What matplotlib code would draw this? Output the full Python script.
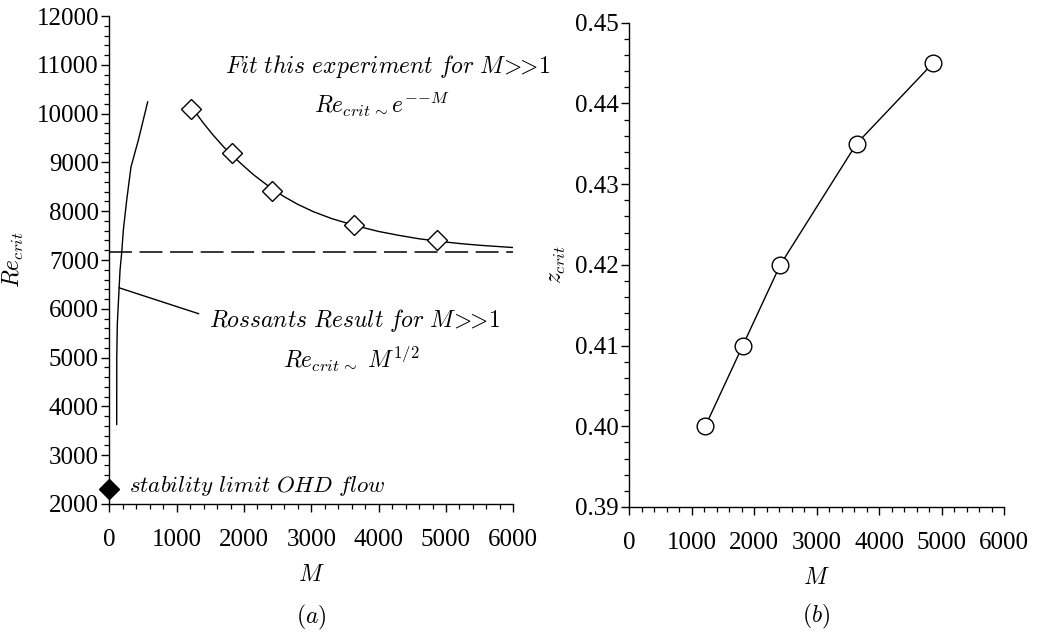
import numpy as np
import matplotlib
matplotlib.use('Agg')
import matplotlib.pyplot as plt
from matplotlib.ticker import MultipleLocator, FormatStrFormatter

plt.rcParams['mathtext.fontset'] = 'cm'
plt.rcParams['font.family'] = ['Liberation Serif', 'DejaVu Serif']

# measured points
M_exp = [1220, 1820, 2420, 3640, 4865]
Re_crit = [10100, 9190, 8420, 7710, 7400]
z_crit = [0.400, 0.410, 0.420, 0.435, 0.445]

# exponential fit through the experiment
fit_M = [1240, 1400, 1545, 1700, 1843, 2000, 2140, 2300, 2428, 2600, 2800,
         3031, 3300, 3651, 4000, 4300, 4600, 4865, 5200, 5500, 6000]
fit_Re = [10100, 9800, 9555, 9315, 9120, 8920, 8750, 8580, 8450, 8295, 8140,
          7990, 7850, 7705, 7585, 7505, 7435, 7388, 7338, 7302, 7255]

# Rossant's large-M result
ross_M = [110, 111, 119, 146, 159, 184, 208, 258, 322, 431, 570]
ross_Re = [3630, 5000, 5690, 6430, 6784, 7150, 7606, 8222, 8906, 9454, 10240]
ross_leader_M = [146, 1325]
ross_leader_Re = [6430, 5900]

Re_asymptote = 7160
M_span = [0, 6000]
ohd_M = 0
ohd_Re = 2300

# ">>" with the relation spacing trimmed
much_greater = r'\!>\!\!\!>\!1'


def it(s):
    return r'\mathit{' + s.replace(' ', r'\ ') + '}'


def style_axes(ax):
    for side in ['top', 'right']:
        ax.spines[side].set_visible(False)
    for side in ['left', 'bottom']:
        ax.spines[side].set_linewidth(1.0)
    ax.tick_params(which='major', direction='out', length=6, width=1.0, labelsize=18)
    ax.tick_params(which='minor', direction='out', length=3.5, width=0.9)
    ax.tick_params(axis='x', which='major', pad=12)
    ax.tick_params(axis='y', which='major', pad=1.5)
    ax.xaxis.set_major_locator(MultipleLocator(1000))
    ax.xaxis.set_minor_locator(MultipleLocator(200))
    ax.set_xlim(0, 6000)


fig = plt.figure(figsize=(10.37, 6.35), dpi=100)
ax1 = fig.add_axes([0.1054, 0.2063, 0.3896, 0.7685])
ax2 = fig.add_axes([0.6066, 0.2016, 0.3616, 0.7627])

# (a) critical Reynolds number
style_axes(ax1)
ax1.set_ylim(2000, 12000)
ax1.yaxis.set_major_locator(MultipleLocator(1000))
ax1.yaxis.set_minor_locator(MultipleLocator(200))

ax1.plot(fit_M, fit_Re, color='black', lw=1.0)
ax1.plot(M_exp, Re_crit, linestyle='none', marker='D', markersize=10,
         markerfacecolor='white', markeredgecolor='black', markeredgewidth=1.0)
dash, = ax1.plot(M_span, [Re_asymptote, Re_asymptote], color='black', lw=1.1)
dash.set_dashes([15, 5])
ax1.plot(ross_M, ross_Re, color='black', lw=1.0)
ax1.plot(ross_leader_M, ross_leader_Re, color='black', lw=1.0)
ax1.plot([ohd_M], [ohd_Re], marker='D', markersize=10, color='black', clip_on=False)

ax1.text(4130, 10960, '$' + it('Fit this experiment for M') + much_greater + '$',
         fontsize=17, ha='center', va='center')
ax1.text(4040, 10190, r'$Re_{crit}{}_{\sim}e^{{-}{-}M}$', fontsize=17,
         ha='center', va='center')
ax1.text(3650, 5770, '$' + it('Rossants Result for M') + much_greater + '$',
         fontsize=17, ha='center', va='center')
ax1.text(3600, 4970, r'$Re_{crit}{}_{\sim}\ M^{1/2}$', fontsize=17,
         ha='center', va='center')
ax1.text(290, 2370, '$' + it('stability limit OHD flow') + '$', fontsize=16.5,
         ha='left', va='center')

ax1.set_ylabel(r'$Re_{crit}$', fontsize=17)
ax1.yaxis.set_label_coords(-0.206, 0.5)
ax1.set_xlabel(r'$M$', fontsize=17)
ax1.xaxis.set_label_coords(0.5, -0.125)
ax1.text(0.5, -0.232, r'$\mathit{(a)}$', transform=ax1.transAxes, fontsize=17,
         ha='center', va='center')

# (b) critical position
style_axes(ax2)
ax2.set_ylim(0.39, 0.45)
ax2.yaxis.set_major_locator(MultipleLocator(0.01))
ax2.yaxis.set_minor_locator(MultipleLocator(0.002))
ax2.yaxis.set_major_formatter(FormatStrFormatter('%.2f'))

ax2.plot(M_exp, z_crit, color='black', lw=1.0, marker='o', markersize=12,
         markerfacecolor='white', markeredgecolor='black', markeredgewidth=1.0)

ax2.set_ylabel(r'$z_{crit}$', fontsize=17)
ax2.yaxis.set_label_coords(-0.163, 0.5)
ax2.set_xlabel(r'$M$', fontsize=17)
ax2.xaxis.set_label_coords(0.5, -0.125)
ax2.text(0.5, -0.226, r'$\mathit{(b)}$', transform=ax2.transAxes, fontsize=17,
         ha='center', va='center')

fig.savefig('out.png', dpi=100)
